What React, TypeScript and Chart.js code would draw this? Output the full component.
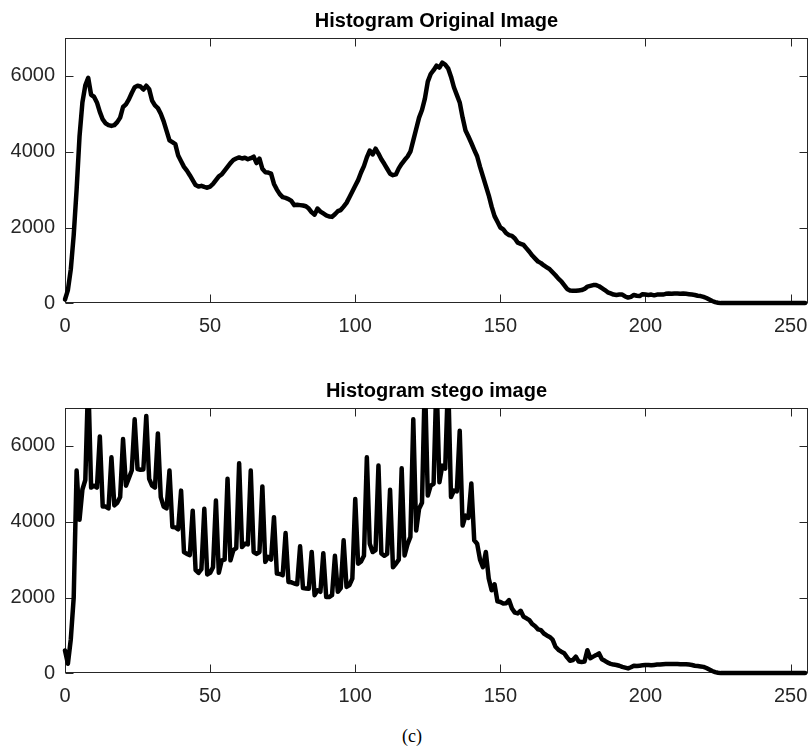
import React, { useEffect, useRef } from 'react';
import { Chart, registerables } from 'chart.js';

Chart.register(...registerables);

// ---------- data ----------
const xTicks = [0, 50, 100, 150, 200, 250];
const yTicks = [0, 2000, 4000, 6000];
const X_MAX = 256;
const Y_MAX = 7000;
const topTitle = 'Histogram Original Image';
const bottomTitle = 'Histogram stego image';
const caption = '(c)';

// pixel counts per grey level 0..255, original image
const originalCounts = [
  100, 350, 900, 1800, 3000, 4400, 5300, 5750, 5950, 5500,
  5450, 5300, 5050, 4850, 4750, 4700, 4680, 4700, 4780, 4900,
  5180, 5250, 5380, 5550, 5700, 5740, 5720, 5640, 5740, 5650,
  5350, 5220, 5150, 5000, 4800, 4550, 4300, 4250, 4200, 3900,
  3750, 3600, 3500, 3380, 3250, 3120, 3080, 3100, 3070, 3050,
  3080, 3150, 3250, 3350, 3400, 3500, 3600, 3700, 3780, 3820,
  3850, 3820, 3840, 3800, 3830, 3870, 3700, 3820, 3550, 3460,
  3450, 3420, 3150, 3000, 2880, 2800, 2780, 2750, 2700, 2590,
  2600, 2590, 2580, 2560, 2500, 2400, 2340, 2500, 2420, 2370,
  2320, 2290, 2280, 2350, 2430, 2460, 2550, 2650, 2800, 2950,
  3100, 3250, 3450, 3620, 3850, 4030, 3930, 4080, 3950, 3800,
  3680, 3550, 3420, 3380, 3400, 3560, 3680, 3780, 3870, 4000,
  4300, 4600, 4900, 5100, 5400, 5850, 6050, 6150, 6270, 6220,
  6350, 6300, 6200, 5980, 5700, 5500, 5300, 4900, 4560, 4400,
  4230, 4050, 3880, 3600, 3350, 3100, 2850, 2550, 2300, 2150,
  2000, 1950, 1850, 1800, 1780, 1710, 1600, 1570, 1540, 1450,
  1360, 1260, 1180, 1100, 1060, 1000, 950, 900, 820, 740,
  650, 580, 480, 380, 340, 330, 330, 340, 350, 380,
  440, 460, 480, 480, 450, 400, 350, 290, 260, 230,
  220, 230, 230, 180, 150, 170, 220, 200, 190, 240,
  230, 220, 230, 210, 230, 230, 230, 250, 260, 250,
  260, 260, 250, 260, 250, 240, 230, 220, 200, 190,
  170, 140, 100, 60, 30, 15, 5, 5, 5, 5,
  5, 5, 5, 5, 5, 5, 5, 5, 5, 5,
  5, 5, 5, 5, 5, 5, 5, 5, 5, 5,
  5, 5, 5, 5, 5, 5,
];

// pixel counts per grey level 0..255, stego image
const stegoCounts = [
  600, 250, 900, 2000, 5350, 4050, 4850, 5100, 7800, 4900,
  4950, 4900, 6250, 4400, 4400, 4350, 5700, 4430, 4500, 4650,
  6180, 4950, 5150, 5350, 6700, 5390, 5370, 5380, 6790, 5130,
  4950, 4900, 6330, 4650, 4400, 4350, 5350, 3860, 3850, 3800,
  4820, 3200, 3150, 3120, 4290, 2720, 2650, 2750, 4340, 2610,
  2650, 2800, 4560, 2650, 2980, 3000, 5130, 2980, 3250, 3300,
  5540, 3330, 3420, 3400, 5350, 3200, 3150, 3200, 4930, 2940,
  3070, 3000, 4120, 2630, 2620, 2590, 3700, 2410, 2400, 2370,
  2350, 3350, 2250, 2240, 2230, 3200, 2060, 2190, 2150, 3170,
  2010, 2010, 2060, 3100, 2150, 2250, 3510, 2280, 2330, 2500,
  4600, 2890, 2950, 3100, 5700, 3420, 3200, 3250, 5480, 3160,
  3100, 3150, 4840, 2800, 2890, 3000, 5410, 3110, 3400, 3600,
  6700, 3770, 4340, 4500, 7800, 4690, 4950, 5000, 7800, 5040,
  5480, 5400, 7800, 4650, 4820, 4800, 6400, 3900, 4160, 4100,
  5010, 3510, 3420, 3000, 2800, 3200, 2500, 2190, 2350, 1900,
  1880, 1840, 1850, 1930, 1710, 1600, 1580, 1650, 1490, 1450,
  1400, 1300, 1240, 1160, 1140, 1050, 1000, 960, 890, 700,
  620, 570, 530, 420, 330, 350, 440, 310, 300, 310,
  610, 400, 440, 480, 525, 370, 330, 280, 250, 230,
  220, 200, 170, 150, 130, 160, 200, 190, 200, 210,
  220, 220, 210, 220, 230, 230, 240, 245, 245, 245,
  245, 245, 240, 240, 240, 230, 220, 200, 190, 180,
  170, 140, 100, 60, 30, 15, 5, 5, 5, 5,
  5, 5, 5, 5, 5, 5, 5, 5, 5, 5,
  5, 5, 5, 5, 5, 5, 5, 5, 5, 5,
  5, 5, 5, 5, 5, 5,
];

// ---------- styling ----------
const FONT = "'Liberation Sans', Arial, Helvetica, sans-serif";
const AXIS_COLOR = '#262626';
const CANVAS_W = 812;
const CANVAS_H = 340;

const boxPlugin = {
  id: 'matlabBox',
  beforeDatasetsDraw(chart: any) {
    const { ctx, chartArea: a, scales } = chart;
    const tick = 8;
    ctx.save();
    ctx.strokeStyle = AXIS_COLOR;
    ctx.lineWidth = 1;
    const L = Math.round(a.left) + 0.5;
    const R = Math.round(a.right) - 0.5;
    const T = Math.round(a.top) + 0.5;
    const B = Math.round(a.bottom) - 0.5;
    ctx.strokeRect(L, T, R - L, B - T);
    ctx.beginPath();
    for (const t of scales.x.ticks) {
      const px = Math.round(scales.x.getPixelForValue(t.value)) + 0.5;
      ctx.moveTo(px, B);
      ctx.lineTo(px, B - tick);
      ctx.moveTo(px, T);
      ctx.lineTo(px, T + tick);
    }
    for (const t of scales.y.ticks) {
      const py = Math.round(scales.y.getPixelForValue(t.value)) + 0.5;
      ctx.moveTo(L, py);
      ctx.lineTo(L + tick, py);
      ctx.moveTo(R, py);
      ctx.lineTo(R - tick, py);
    }
    ctx.stroke();
    ctx.restore();
  },
};

function HistChart({ title, counts, top }: { title: string; counts: number[]; top: number }) {
  const ref = useRef<HTMLCanvasElement>(null);
  useEffect(() => {
    if (!ref.current) return;
    const chart = new Chart(ref.current, {
      type: 'line',
      data: {
        datasets: [
          {
            data: counts.map((v, i) => ({ x: i, y: v })),
            borderColor: '#000000',
            borderWidth: 4.5,
            pointRadius: 0,
            tension: 0,
            fill: false,
            borderJoinStyle: 'round',
            borderCapStyle: 'round',
            clip: { left: 3, top: 0, right: 3, bottom: 5 },
          } as any,
        ],
      },
      options: {
        responsive: false,
        animation: false,
        devicePixelRatio: 1,
        layout: { padding: { left: 0, right: 4, top: 0, bottom: 0 } },
        plugins: {
          legend: { display: false },
          tooltip: { enabled: false },
          title: {
            display: true,
            text: title,
            color: '#000000',
            fullSize: false,
            font: { family: FONT, size: 20, weight: 'bold' },
            padding: { top: 9, bottom: 5 },
          },
        },
        scales: {
          x: {
            type: 'linear',
            min: 0,
            max: X_MAX,
            grid: { display: false, drawTicks: false },
            border: { display: false },
            ticks: {
              color: AXIS_COLOR,
              font: { family: FONT, size: 20 },
              padding: 11,
              maxRotation: 0,
              autoSkip: false,
              callback: (v: any) => String(v),
            },
            afterBuildTicks: (s: any) => {
              s.ticks = xTicks.map((v) => ({ value: v }));
            },
            afterFit: (s: any) => {
              s.height = 36.7;
              s.paddingLeft = 0;
              s.paddingRight = 0;
            },
          },
          y: {
            type: 'linear',
            min: 0,
            max: Y_MAX,
            grid: { display: false, drawTicks: false },
            border: { display: false },
            ticks: {
              color: AXIS_COLOR,
              font: { family: FONT, size: 20 },
              padding: 10,
              autoSkip: false,
              callback: (v: any) => String(v),
            },
            afterBuildTicks: (s: any) => {
              s.ticks = yTicks.map((v) => ({ value: v }));
            },
            afterFit: (s: any) => {
              s.width = 65;
              s.paddingTop = 0;
              s.paddingBottom = 0;
            },
          },
        },
      } as any,
      plugins: [boxPlugin],
    });
    return () => chart.destroy();
  }, [title, counts]);
  return (
    <canvas
      ref={ref}
      width={CANVAS_W}
      height={CANVAS_H}
      style={{ position: 'absolute', left: 0, top, width: CANVAS_W, height: CANVAS_H }}
    />
  );
}

export default function App() {
  return (
    <div style={{ position: 'absolute', left: 0, top: 0, width: 812, height: 747, background: '#ffffff' }}>
      <HistChart title={topTitle} counts={originalCounts} top={0} />
      <HistChart title={bottomTitle} counts={stegoCounts} top={370} />
      <div
        style={{
          position: 'absolute',
          left: 362,
          width: 100,
          top: 726,
          textAlign: 'center',
          fontFamily: "'Liberation Serif', 'Times New Roman', serif",
          fontSize: 18,
          lineHeight: '20px',
          color: '#000000',
        }}
      >
        {caption}
      </div>
    </div>
  );
}
